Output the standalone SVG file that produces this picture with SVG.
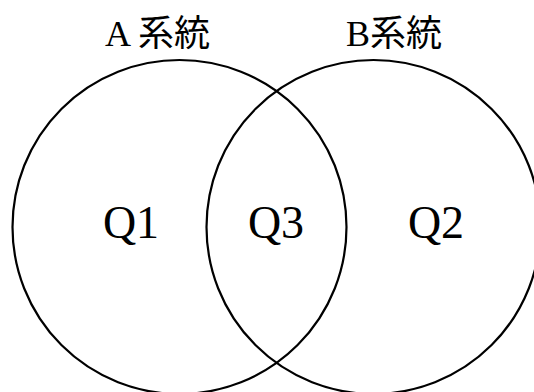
<svg xmlns="http://www.w3.org/2000/svg" width="534" height="392" viewBox="0 0 534 392">
<style>
.c{fill:none;stroke:#000;stroke-width:2.2}
.t{font-family:"Liberation Serif","Noto Sans CJK JP",serif;fill:#000}
.h{font-size:36px}
.q{font-size:46px;text-anchor:middle}
</style>
<rect width="534" height="392" fill="#fff"/>
<g id="setA">
<circle class="c" cx="179.5" cy="227" r="167"/>
<text class="t h" x="105" y="46">A 系統</text>
</g>
<g id="setB">
<circle class="c" cx="373.5" cy="227" r="167"/>
<text class="t h" x="346" y="46">B系統</text>
</g>
<g id="regions">
<text class="t q" x="131" y="238">Q1</text>
<text class="t q" x="276" y="238">Q3</text>
<text class="t q" x="436" y="238">Q2</text>
</g>
</svg>
